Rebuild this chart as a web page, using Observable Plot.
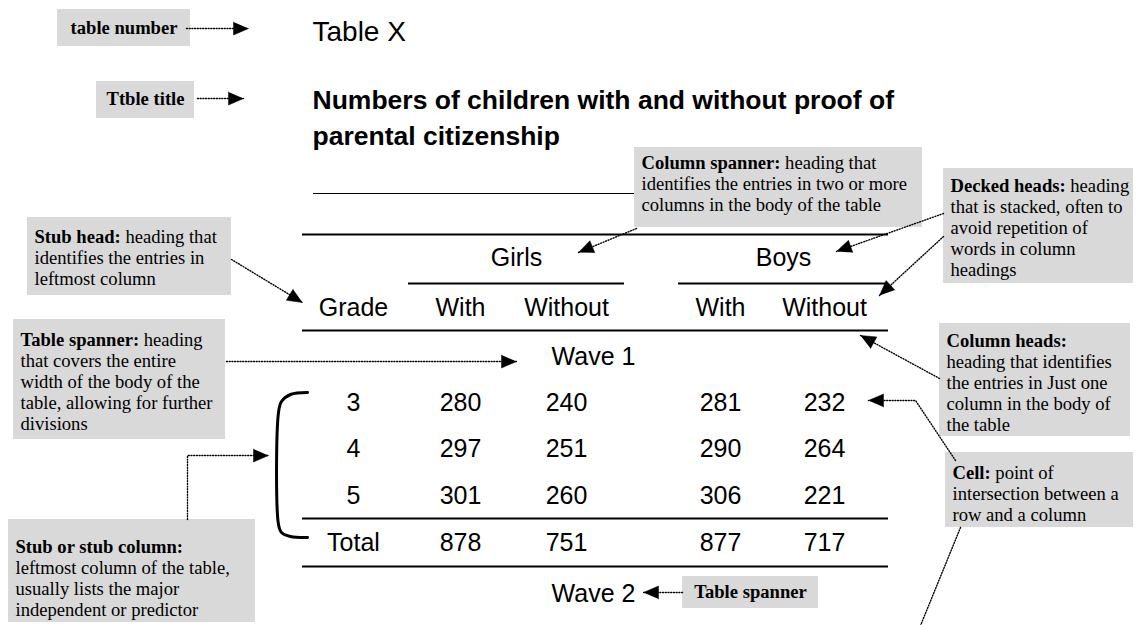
<!DOCTYPE html>
<html><head><meta charset="utf-8">
<script src="https://cdn.jsdelivr.net/npm/d3@7"></script>
<script src="https://cdn.jsdelivr.net/npm/@observablehq/plot@0.6"></script>
<style>html,body{margin:0;padding:0;background:#fff}#chart svg{display:block}</style>
</head><body><div id="chart"></div>
<script>
// ---------------- data ----------------
const tableNumber = "Table X";
const titleLines = ["Numbers of children with and without proof of", "parental citizenship"];
const spanners = ["Girls", "Boys"];
const columnHeads = ["Grade", "With", "Without", "With", "Without"];
const waves = ["Wave 1", "Wave 2"];
const grades = ["3", "4", "5", "Total"];
const girlsWith = [280, 297, 301, 878];
const girlsWithout = [240, 251, 260, 751];
const boysWith = [281, 290, 306, 877];
const boysWithout = [232, 264, 221, 717];
const noteTerms = ["table number", "Ttble title", "Column spanner:", "Decked heads:", "Stub head:",
  "Table spanner:", "Column heads:", "Cell:", "Stub or stub column:", "Table spanner"];
const noteLines = [
  [""], [""],
  [" heading that", "identifies the entries in two or more", "columns in the body of the table"],
  [" heading", "that is stacked, often to", "avoid repetition of", "words in column", "headings"],
  [" heading that", "identifies the entries in", "leftmost column"],
  [" heading", "that covers the entire", "width of the body of the", "table, allowing for further", "divisions"],
  ["", "heading that identifies", "the entries in Just one", "column in the body of", "the table"],
  [" point of", "intersection between a", "row and a column"],
  ["", "leftmost column of the table,", "usually lists the major", "independent or predictor"],
  [""]
];

// ---------------- layout ----------------
const W = 1140, H = 625;
const SANS = "'Liberation Sans', Arial, sans-serif";
const SERIF = "'Liberation Serif', 'Times New Roman', serif";
const noteSize = 18.6, noteLH = 21, notePad = 7;
const noteBox = [[57,190,9,46],[96,194,81,118],[634,922,147,227],[943,1133,168,283],[27,231,217,295],
  [13,225,319,439],[939,1130,323,436],[945,1133,452,527],[8,255,519,622],[682,818,576,608]];
const noteFirstY = [28,99,163,186,237,340,341,473,547,592];
const noteCentered = [true,true,false,false,false,false,false,false,false,true];

const titleX = 312, tableNumberY = 32, titleY = [100, 136];
const tableL = 302, tableR = 888;
const colX = [353, 460, 566, 720, 824];
const spannerX = [516, 783], spannerY = 257;
const spannerLines = [[408, 624], [678, 888]], spannerLineY = 283;
const headY = 307, waveX = 593, waveY = [356, 593];
const rowY = [402, 448, 495, 542];
const thickRules = [234, 330, 518, 566];
const thinRule = {y: 193, x1: 313, x2: 634};
const arrows = [
  [[186,28],[248,28]],
  [[197,98],[243,98]],
  [[636,228],[578,252]],
  [[943,213],[836,251]],
  [[943,236],[879,295]],
  [[231,259],[302,302]],
  [[226,361],[516,361]],
  [[939,378],[860,335]],
  [[955,460],[915,400],[868,400]],
  [[187,519],[187,455],[268,455]],
  [[682,592],[643,592]]
];
const plainDotted = [[[960,527],[920,625]]];
const bracket = [[307,392],[290,394],[281,401],[278,412],[278,524],[281,532],[290,536],[307,537]];

// ---------------- build ----------------
const ctx = document.createElement("canvas").getContext("2d");
function measure(s, font) { ctx.font = font; return ctx.measureText(s).width; }

const boxes = noteBox.map(([x1,x2,y1,y2]) => ({x1,x2,y1,y2}));
const boldCentered = [], boldLeft = [], regTexts = [];
noteTerms.forEach((term, i) => {
  const [x1, x2] = noteBox[i];
  if (noteCentered[i]) {
    boldCentered.push({x: (x1 + x2) / 2, y: noteFirstY[i], text: term});
    return;
  }
  const x0 = x1 + notePad;
  boldLeft.push({x: x0, y: noteFirstY[i], text: term});
  const bw = measure(term, `bold ${noteSize}px ${SERIF}`);
  noteLines[i].forEach((line, j) => {
    if (!line) return;
    regTexts.push({x: j === 0 ? x0 + bw : x0, y: noteFirstY[i] + j * noteLH, text: line});
  });
});

const dotted = [];
arrows.concat(plainDotted).forEach((pts, id) => pts.forEach(([x, y]) => dotted.push({id, x, y})));
const heads = [];
arrows.forEach((pts, id) => {
  const [tx, ty] = pts[pts.length - 1], [fx, fy] = pts[pts.length - 2];
  const d = Math.hypot(tx - fx, ty - fy), ux = (tx - fx) / d, uy = (ty - fy) / d;
  const len = 15, wid = 13, bx = tx - ux * len, by = ty - uy * len;
  heads.push({id, x: tx, y: ty}, {id, x: bx - uy * wid / 2, y: by + ux * wid / 2}, {id, x: bx + uy * wid / 2, y: by - ux * wid / 2});
});

const rules = thickRules.map(y => ({y, x1: tableL, x2: tableR}));
const spanRules = spannerLines.map(([x1, x2]) => ({y: spannerLineY, x1, x2}));
const titleTexts = [{x: titleX, y: tableNumberY, text: tableNumber}];
const titleBold = titleLines.map((t, i) => ({x: titleX, y: titleY[i], text: t}));
const tableTexts = [];
spanners.forEach((s, i) => tableTexts.push({x: spannerX[i], y: spannerY, text: s}));
columnHeads.forEach((s, i) => tableTexts.push({x: colX[i], y: headY, text: s}));
waves.forEach((s, i) => tableTexts.push({x: waveX, y: waveY[i], text: s}));
const cols = [grades, girlsWith, girlsWithout, boysWith, boysWithout];
cols.forEach((col, c) => col.forEach((v, r) => tableTexts.push({x: colX[c], y: rowY[r], text: String(v)})));
const bracketPts = bracket.map(([x, y]) => ({x, y}));

const noteFont = {lineAnchor: "middle", fontFamily: SERIF, fontSize: noteSize, fill: "black"};
const chart = Plot.plot({
  width: W, height: H, margin: 0,
  x: {domain: [0, W], range: [0, W], axis: null},
  y: {domain: [0, H], range: [0, H], axis: null},
  style: {background: "white"},
  marks: [
    Plot.rect(boxes, {x1: "x1", x2: "x2", y1: "y1", y2: "y2", fill: "#d9d9d9"}),
    Plot.ruleY([thinRule], {y: "y", x1: "x1", x2: "x2", stroke: "black", strokeWidth: 1}),
    Plot.ruleY(rules, {y: "y", x1: "x1", x2: "x2", stroke: "black", strokeWidth: 2}),
    Plot.ruleY(spanRules, {y: "y", x1: "x1", x2: "x2", stroke: "black", strokeWidth: 2}),
    Plot.line(bracketPts, {x: "x", y: "y", curve: "catmull-rom", stroke: "black", strokeWidth: 3}),
    Plot.line(dotted, {x: "x", y: "y", z: "id", stroke: "black", strokeWidth: 1.4, strokeDasharray: "1,1.7"}),
    Plot.line(heads, {x: "x", y: "y", z: "id", fill: "black", stroke: "black", strokeWidth: 0.5}),
    Plot.text(titleTexts, {x: "x", y: "y", text: "text", textAnchor: "start", lineAnchor: "middle", fontFamily: SANS, fontSize: 28, fill: "black"}),
    Plot.text(titleBold, {x: "x", y: "y", text: "text", textAnchor: "start", lineAnchor: "middle", fontFamily: SANS, fontSize: 26.5, fontWeight: "bold", fill: "black"}),
    Plot.text(tableTexts, {x: "x", y: "y", text: "text", textAnchor: "middle", lineAnchor: "middle", fontFamily: SANS, fontSize: 25, fill: "black"}),
    Plot.text(boldCentered, {x: "x", y: "y", text: "text", textAnchor: "middle", fontWeight: "bold", ...noteFont}),
    Plot.text(boldLeft, {x: "x", y: "y", text: "text", textAnchor: "start", fontWeight: "bold", ...noteFont}),
    Plot.text(regTexts, {x: "x", y: "y", text: "text", textAnchor: "start", ...noteFont})
  ]
});
document.getElementById("chart").appendChild(chart);
</script>
</body></html>
